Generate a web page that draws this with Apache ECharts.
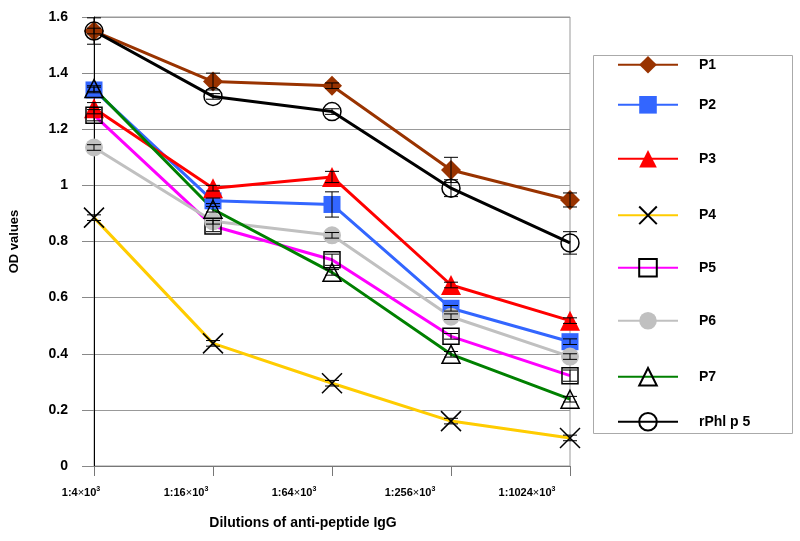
<!DOCTYPE html>
<html><head><meta charset="utf-8">
<script src="https://cdn.jsdelivr.net/npm/echarts@6/dist/echarts.min.js"></script>
<style>html,body{margin:0;padding:0;background:#fff}#c{width:800px;height:541px}</style>
</head><body><div id="c"></div>
<script>
const dilutions = ['1:4×10³','1:16×10³','1:64×10³','1:256×10³','1:1024×10³'];
const yTicks = [0,0.2,0.4,0.6,0.8,1,1.2,1.4,1.6];
const seriesNames = ['P1','P2','P3','P4','P5','P6','P7','rPhl p 5'];
const P1 = [1.55, 1.37, 1.355, 1.055, 0.948];
const P2 = [1.34, 0.945, 0.932, 0.562, 0.443];
const P3 = [1.275, 0.99, 1.03, 0.645, 0.518];
const P4 = [0.885, 0.437, 0.295, 0.16, 0.10];
const P5 = [1.25, 0.855, 0.735, 0.462, 0.322];
const P6 = [1.135, 0.872, 0.822, 0.532, 0.39];
const P7 = [1.345, 0.915, 0.69, 0.398, 0.238];
const rPhl = [1.55, 1.317, 1.263, 0.99, 0.795];
const errP1 = [0.047, 0.03, 0.01, 0.045, 0.025];
const errP2 = [0.01, 0.01, 0.045, 0.01, 0.01];
const errP3 = [0.02, 0.01, 0.02, 0.01, 0.01];
const errP4 = [0.01, 0.01, 0.01, 0.01, 0.01];
const errP5 = [0.02, 0.02, 0.02, 0.01, 0.02];
const errP6 = [0.01, 0.01, 0.01, 0.01, 0.01];
const errP7 = [0.01, 0.01, 0.01, 0.01, 0.01];
const errR = [0.01, 0.01, 0.01, 0.03, 0.04];

const values = [P1,P2,P3,P4,P5,P6,P7,rPhl];
const errs = [errP1,errP2,errP3,errP4,errP5,errP6,errP7,errR];
const styles = [
  {line:'#993300', symbol:'diamond', size:20, fill:'#993300', border:'#993300', bw:0},
  {line:'#3366FF', symbol:'rect', size:17, fill:'#3366FF', border:'#3366FF', bw:0},
  {line:'#FF0000', symbol:'triangle', size:20, fill:'#FF0000', border:'#FF0000', bw:0},
  {line:'#FFCC00', symbol:'path://M0,0L20,20M20,0L0,20', size:20, fill:'none', border:'#000', bw:1.5},
  {line:'#FF00FF', symbol:'rect', size:16, fill:'rgba(255,255,255,0)', border:'#000', bw:1.5},
  {line:'#C0C0C0', symbol:'circle', size:18, fill:'#C0C0C0', border:'#C0C0C0', bw:0},
  {line:'#008000', symbol:'triangle', size:18, fill:'rgba(255,255,255,0)', border:'#000', bw:1.5},
  {line:'#000000', symbol:'circle', size:18, fill:'rgba(255,255,255,0)', border:'#000', bw:1.5}
];
const labelShift = [-13,-27,-38,-41,-43];
const legendCenters = [67,107,161,215,269,323,378,423];

const lineSeries = seriesNames.map((n,i)=>({
  type:'line', name:n, data: values[i], symbol: styles[i].symbol, symbolSize: styles[i].size,
  lineStyle:{color:styles[i].line, width:3},
  itemStyle:{color:styles[i].fill, borderColor:styles[i].border, borderWidth:styles[i].bw},
  z: 3, emphasis:{disabled:true}
}));
const errSeries = seriesNames.map((n,i)=>({
  type:'custom', name:n+' err', silent:true, z:5,
  data: values[i].map((v,j)=>[j, v, errs[i][j]]),
  renderItem:(params, api)=>{
    const x=api.value(0), v=api.value(1), e=api.value(2);
    const hi=api.coord([x, v+e]), lo=api.coord([x, v-e]);
    const hw=7, st={stroke:'#000', lineWidth:1};
    return {type:'group', children:[
      {type:'line', shape:{x1:hi[0],y1:hi[1],x2:lo[0],y2:lo[1]}, style:st},
      {type:'line', shape:{x1:hi[0]-hw,y1:hi[1],x2:hi[0]+hw,y2:hi[1]}, style:st},
      {type:'line', shape:{x1:lo[0]-hw,y1:lo[1],x2:lo[0]+hw,y2:lo[1]}, style:st}
    ]};
  }
}));

const legends = seriesNames.map((n,i)=>({
  data:[n], left:617, top: legendCenters[i]-11, itemWidth:60, itemHeight:22, padding:0,
  selectedMode:false,
  textStyle:{fontFamily:'Arial, Liberation Sans', fontWeight:'bold', fontSize:14, color:'#000',
    padding: i===7 ? [0,0,10,16] : [0,0,0,16]}
}));

const chart = echarts.init(document.getElementById('c'), null, {renderer:'canvas'});
chart.setOption({
  animation:false,
  backgroundColor:'#fff',
  grid:{left:94, right:230, top:17, bottom:75, show:true, borderColor:'#999', borderWidth:1},
  legend: legends,
  graphic:[{type:'rect', shape:{x:593.5, y:55.5, width:199, height:378}, style:{fill:'none', stroke:'#aaa', lineWidth:1}}],
  xAxis:{
    type:'category', boundaryGap:false,
    data: dilutions.map((d,i)=>({value:d, textStyle:{padding:[0, -2*labelShift[i], 0, 0]}})),
    name:'Dilutions of anti-peptide IgG', nameLocation:'middle', nameGap:50,
    nameTextStyle:{fontFamily:'Arial, Liberation Sans', fontWeight:'bold', fontSize:14, color:'#000', padding:[0,58,0,0]},
    axisLine:{lineStyle:{color:'#777', width:1}},
    axisTick:{length:10, lineStyle:{color:'#777'}},
    axisLabel:{margin:20, color:'#000', interval:0, hideOverlap:false,
      formatter:(v)=>v.replace(/^(.*)×10³$/, '{a|$1}{m|×}{a|10}{s|3}'),
      rich:{
        a:{fontFamily:'Arial, Liberation Sans', fontWeight:'bold', fontSize:11, color:'#000'},
        m:{fontFamily:'Arial, Liberation Sans', fontSize:11, color:'#000'},
        s:{fontFamily:'Arial, Liberation Sans', fontWeight:'bold', fontSize:7, color:'#000', padding:[0,0,6,0]}
      }},
    splitLine:{show:false}
  },
  yAxis:{
    type:'value', min:yTicks[0], max:yTicks[yTicks.length-1], interval:0.2,
    name:'OD values', nameLocation:'middle', nameGap:73,
    nameTextStyle:{fontFamily:'Arial, Liberation Sans', fontWeight:'bold', fontSize:13, color:'#000'},
    axisLine:{show:true, lineStyle:{color:'#000', width:1}},
    axisTick:{show:true, length:12, lineStyle:{color:'#888'}},
    axisLabel:{margin:26, fontFamily:'Arial, Liberation Sans', fontWeight:'bold', fontSize:14, color:'#000'},
    splitLine:{lineStyle:{color:'#999', width:1}}
  },
  series: lineSeries.concat(errSeries)
});
</script></body></html>
